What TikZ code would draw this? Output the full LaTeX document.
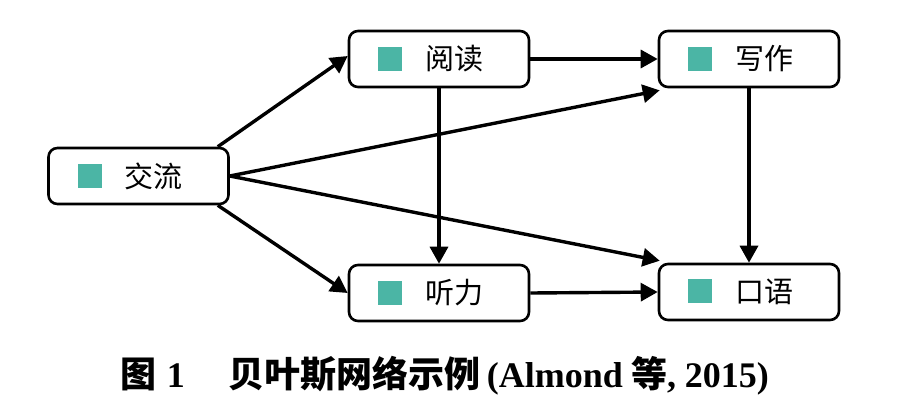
\documentclass[tikz,border=0pt]{standalone}
\usepackage{fontspec}
\setmainfont{Liberation Serif}
\newfontfamily\cjk{Noto Sans CJK SC}
\usetikzlibrary{arrows.meta}
\definecolor{sqteal}{HTML}{4BB5A5}
\newcommand{\sqmark}{\textcolor{sqteal}{\rule[-0.8pt]{24pt}{24pt}}}
\tikzset{
  box/.style={draw=black, line width=2.6pt, rounded corners=9pt, minimum width=180pt, minimum height=56pt,
     inner xsep=29pt, text width=122pt, align=left, font=\fontsize{29pt}{32pt}\cjk},
  arr/.style={line width=3.4pt, -{Triangle[length=17pt,width=18pt]}}
}
\begin{document}
\begin{tikzpicture}[x=1pt,y=-1pt]
\useasboundingbox (0,0) rectangle (913,408);
\node[box] (jl) at (138.5,176) {\sqmark\hspace{23pt}交流};
\node[box] (yd) at (439,59) {\sqmark\hspace{23pt}阅读};
\node[box] (xz) at (749,59) {\sqmark\hspace{23pt}写作};
\node[box] (tl) at (439,293) {\sqmark\hspace{23pt}听力};
\node[box] (ky) at (749,292) {\sqmark\hspace{23pt}口语};
\draw[arr] ([xshift=-12pt]jl.north east) -- ([yshift=3pt]yd.west);
\draw[arr] (jl.east) -- ([xshift=2pt,yshift=-2pt]xz.south west);
\draw[arr] (jl.east) -- ([xshift=2pt,yshift=2pt]ky.north west);
\draw[arr] ([xshift=-12pt]jl.south east) -- (tl.west);
\draw[arr] (yd.east) -- (xz.west);
\draw[arr] (yd.south) -- (tl.north);
\draw[arr] (xz.south) -- (ky.north);
\draw[arr] (tl.east) -- (ky.west);
\node[font=\bfseries\fontsize{36pt}{40pt}\selectfont, anchor=center] (cap) at (445,376)
  {{\cjk\bfseries 图}\hspace{10pt}1\hspace{44pt}{\cjk\bfseries 贝叶斯网络示例}\hspace{6pt}(Almond\hspace{8pt}{\cjk\bfseries 等}, 2015)};
\end{tikzpicture}
\end{document}
